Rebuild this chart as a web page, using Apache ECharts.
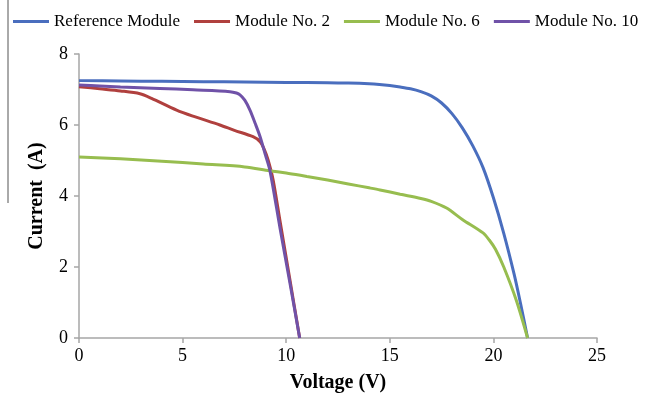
<!DOCTYPE html>
<html>
<head>
<meta charset="utf-8">
<script src="https://cdn.jsdelivr.net/npm/echarts@6/dist/echarts.min.js"></script>
<style>
  html, body { margin: 0; padding: 0; background: #fff; }
  #chart { width: 656px; height: 398px; }
</style>
</head>
<body>
<div id="chart"></div>
<script>
// values: [voltage (V), current (A)]
const seriesNames = ["Reference Module", "Module No. 2", "Module No. 6", "Module No. 10"];

const referenceModule = [
  [0, 7.25], [2, 7.24], [4, 7.23], [6, 7.22], [8, 7.21], [10, 7.2], [12, 7.19],
  [13, 7.18], [14, 7.16], [14.5, 7.14], [15, 7.11], [15.5, 7.07], [16, 7.02],
  [16.5, 6.94], [17, 6.82], [17.5, 6.62], [18, 6.32], [18.5, 5.92], [19, 5.42],
  [19.5, 4.8], [20, 3.95], [20.5, 2.95], [21, 1.8], [21.3, 1.0], [21.65, 0]
];
const moduleNo2 = [
  [0, 7.08], [1, 7.02], [2, 6.96], [2.94, 6.88], [3.5, 6.75], [4.71, 6.42],
  [5.5, 6.25], [6.8, 6.0], [7.5, 5.85], [8.4, 5.67], [8.74, 5.53], [8.95, 5.3],
  [9.13, 5.01], [9.37, 4.45], [9.7, 3.3], [10.2, 1.57], [10.65, 0]
];
const moduleNo6 = [
  [0, 5.1], [2, 5.05], [4, 4.98], [6, 4.9], [8, 4.82], [9.2, 4.71], [10, 4.65],
  [11, 4.55], [12, 4.45], [13, 4.34], [14, 4.23], [14.53, 4.17], [15.5, 4.05],
  [16.5, 3.93], [17, 3.85], [17.74, 3.66], [18.5, 3.34], [19.5, 2.96],
  [19.8, 2.76], [20.1, 2.5], [20.5, 2.0], [21.1, 1.07], [21.65, 0]
];
const moduleNo10 = [
  [0, 7.13], [1, 7.1], [2, 7.07], [3.9, 7.03], [5.5, 6.99], [7.29, 6.94],
  [7.6, 6.9], [7.77, 6.85], [8.0, 6.7], [8.25, 6.42], [8.5, 6.05], [8.74, 5.67],
  [9.0, 5.15], [9.22, 4.7], [9.7, 3.1], [10.18, 1.55], [10.65, 0]
];

const xTicks = { min: 0, max: 25, interval: 5 };
const yTicks = { min: 0, max: 8, interval: 2 };

const colors = ["#4a6ebe", "#b0403e", "#97bd4f", "#7052a8"];
const allData = [referenceModule, moduleNo2, moduleNo6, moduleNo10];

const serif = "'Liberation Serif', 'Times New Roman', serif";
const axisGrey = "#a6a6a6";

const chart = echarts.init(document.getElementById("chart"));

const option = {
  animation: false,
  backgroundColor: "#fff",
  color: colors,
  grid: { left: 79, right: 59, top: 54, bottom: 60 },
  legend: {
    left: 8,
    top: 8,
    width: 800,
    itemWidth: 36,
    itemHeight: 3,
    itemGap: 14,
    icon: "rect",
    textStyle: { fontFamily: serif, fontSize: 17, color: "#000" },
    data: seriesNames
  },
  xAxis: {
    type: "value",
    min: xTicks.min,
    max: xTicks.max,
    interval: xTicks.interval,
    name: "Voltage (V)",
    nameLocation: "middle",
    nameGap: 35,
    nameTextStyle: { fontFamily: serif, fontSize: 20, fontWeight: "bold", color: "#000" },
    axisLine: { lineStyle: { color: axisGrey, width: 1.5 } },
    axisTick: { show: true, length: 5, lineStyle: { color: axisGrey, width: 1.5 } },
    axisLabel: { fontFamily: serif, fontSize: 18, color: "#000", margin: 9 },
    splitLine: { show: false }
  },
  yAxis: {
    type: "value",
    min: yTicks.min,
    max: yTicks.max,
    interval: yTicks.interval,
    name: "Current  (A)",
    nameLocation: "middle",
    nameGap: 32,
    nameTextStyle: { fontFamily: serif, fontSize: 20, fontWeight: "bold", color: "#000" },
    axisLine: { show: true, lineStyle: { color: axisGrey, width: 1.5 } },
    axisTick: { show: true, length: 5, lineStyle: { color: axisGrey, width: 1.5 } },
    axisLabel: { fontFamily: serif, fontSize: 18, color: "#000", margin: 11 },
    splitLine: { show: false }
  },
  graphic: [
    {
      type: "line",
      shape: { x1: 8, y1: 0, x2: 8, y2: 203 },
      style: { stroke: "#555", lineWidth: 1 }
    }
  ],
  series: seriesNames.map((name, i) => ({
    name: name,
    type: "line",
    data: allData[i],
    showSymbol: false,
    smooth: 0.3,
    lineStyle: { width: 3, color: colors[i] },
    z: i + 2
  }))
};

chart.setOption(option);
</script>
</body>
</html>
